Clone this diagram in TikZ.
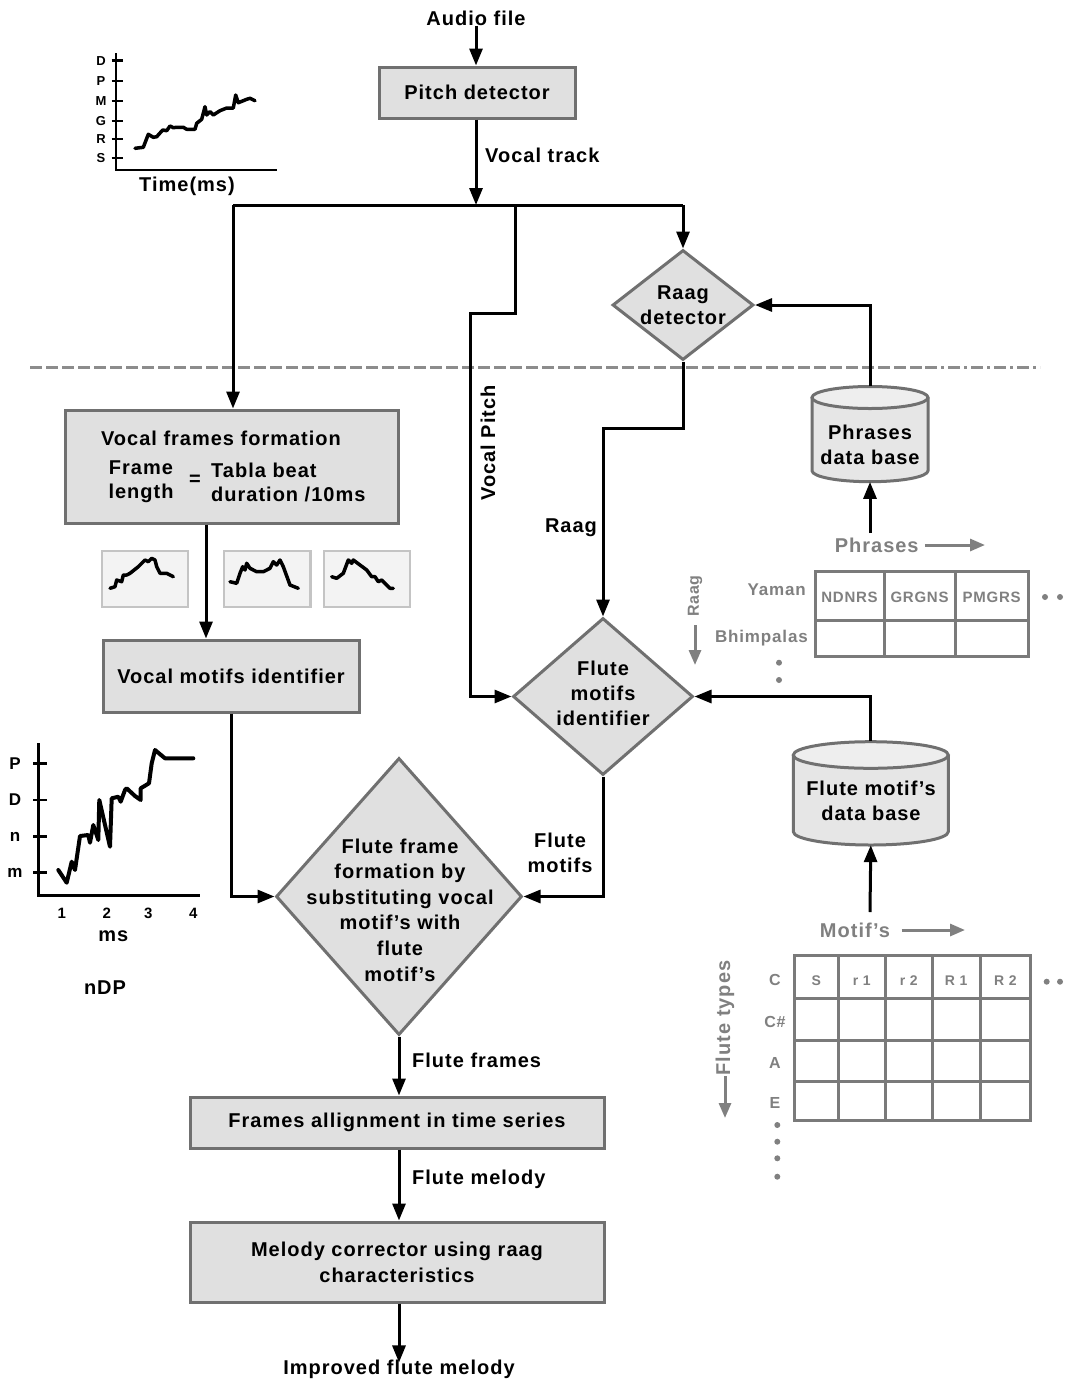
\documentclass[tikz,border=0pt]{standalone}
\usepackage{fontspec}
\setmainfont{Liberation Sans}[LetterSpace=5]
\usetikzlibrary{arrows.meta,shapes.geometric}
\definecolor{boxfill}{HTML}{E0E0E0}
\definecolor{boxline}{HTML}{707070}
\definecolor{graytxt}{HTML}{808080}
\definecolor{tabline}{HTML}{7A7A7A}
\definecolor{framefill}{HTML}{F3F3F3}
\definecolor{frameline}{HTML}{C4C4C4}
\definecolor{dashcol}{HTML}{8C8C8C}
\definecolor{dbfill}{HTML}{E6E6E6}
\definecolor{dbtop}{HTML}{EEEEEE}
\begin{document}
\begin{tikzpicture}[x=1pt,y=-1pt,
  txt/.style={font=\bfseries\fontsize{20}{25}\selectfont, inner sep=0pt, align=center},
  gtxt/.style={txt, text=graytxt},
  box/.style={draw=boxline, fill=boxfill, line width=3pt, inner sep=0pt},
  dia/.style={diamond, draw=boxline, fill=boxfill, line width=3pt, inner sep=0pt},
  conn/.style={line width=3pt, black},
  arr/.style={conn, -{Triangle[length=17pt,width=13pt]}},
  garr/.style={line width=3pt, graytxt, -{Triangle[length=15pt,width=12pt]}},
  tab/.style={draw=tabline, line width=3pt},
  frm/.style={draw=frameline, fill=framefill, line width=2.5pt, inner sep=0pt, minimum height=56},
  curve/.style={line width=3.5pt, line join=round, line cap=round},
  dbline/.style={draw=boxline, line width=3pt}
]
\fill[white] (0,0) rectangle (1065,1382);
\useasboundingbox (0,0) rectangle (1065,1382);

% dashed separator
\draw[dashcol, line width=3pt, dash pattern=on 12pt off 4pt] (30,367) -- (925,367);
\draw[dashcol, line width=3pt, dash pattern=on 12pt off 4pt on 3pt off 4pt] (925,367) -- (1040,367);

% ---------- top-left pitch graph ----------
\draw[line width=2.5pt] (116,53) -- (116,170) -- (277,170);
\foreach \yy/\lab in {60.7/D, 81/P, 101/M, 121/G, 139/R, 158/S}{
  \draw[line width=2.5pt] (111.7,\yy) -- (123.3,\yy);
  \node[font=\bfseries\fontsize{13}{13}\selectfont, inner sep=0pt] (tl\lab) at (101,\yy) {\lab};
}
\draw[curve] plot coordinates {(135,148.3) (143.3,147.3) (148.3,134.3) (153.3,137.3) (156.7,136.7) (162.7,130) (166.7,130.7) (170,126) (173.3,127.7) (176.7,127.3) (183.3,127.3) (186.7,129.3) (195,129.3) (196.7,123.3) (201.7,119.3) (205,106.7) (206.7,115) (210,111.7) (213.3,115) (220,110.7) (226.7,108) (233.3,108) (235.7,95) (238.3,102.7) (243.3,100.7) (246.7,99.3) (250,98.3) (255,100.7)};
\node[txt] (timems) at (187,186) {Time(ms)};

% ---------- nDP graph ----------
\draw[line width=3pt] (38.3,743) -- (38.3,895) -- (200,895);
\foreach \yy/\lab/\nm in {763.3/P/P, 800/D/D, 836.7/n/n, 872.7/m/m}{
  \draw[line width=2.5pt] (33,\yy) -- (47,\yy);
  \node[font=\bfseries\fontsize{17}{17}\selectfont, inner sep=0pt] (nd\nm) at (15,\yy) {\lab};
}
\foreach \xx/\lab in {61.7/1, 106.7/2, 148.3/3, 193.3/4}{
  \node[font=\bfseries\fontsize{15}{15}\selectfont, inner sep=0pt] (ndx\lab) at (\xx,913) {\lab};
}
\draw[curve, line width=4pt] plot coordinates {(58.3,870) (66.7,882.7) (71.7,861.7) (75,870) (80,836) (88.3,835) (90,842.7) (93.3,825) (98.3,840) (99.3,800) (110,846.7) (111.7,798.3) (118.3,796.7) (120.7,801.7) (125,790) (126.7,788.3) (135,796) (140.7,800) (140.7,788.3) (149,783.3) (151.7,763.3) (155,750) (165,758.3) (193.3,758.3)};
\node[txt] (msl) at (113.3,936) {ms};
\node[txt] (ndp) at (105,988) {nDP};

% ---------- main boxes ----------
\node[txt] (audio) at (476,18) {Audio file};
\node[box, txt, minimum width=196, minimum height=51] (pitch) at (477,92.5) {Pitch detector};
\coordinate (split) at (476,205);
\coordinate (jl) at (233,205);
\coordinate (jr) at (683,205);
\coordinate (jm) at (515,205);

\node[box, minimum width=333, minimum height=113] (vff) at (231.5,466.5) {};
\node[txt] (vfft) at (221,438) {Vocal frames formation};
\node[txt, font=\bfseries\fontsize{20}{24}\selectfont] (vffl) at (141,482) {Frame\\length};
\node[txt] (vffeq) at (195,480) {=};
\node[txt, font=\bfseries\fontsize{20}{24}\selectfont, align=left, anchor=west] (vffr) at (211,482) {Tabla beat\\duration /10ms};

\node[frm, minimum width=86] (fr1) at (145,579) {};
\node[frm, minimum width=86.7] (fr2) at (267.3,579) {};
\node[frm, minimum width=86] (fr3) at (367,579) {};
\draw[curve] plot coordinates {(110,588.3) (115,586.7) (116.7,580) (121.7,581.7) (123.3,575) (126.7,575) (130,573.3) (138.3,566.7) (145,560) (148.3,561.7) (151.7,558.3) (155,560) (156.7,566.7) (160,573.3) (166.7,573.3) (173.3,576.7)};
\draw[curve] plot coordinates {(230,581.7) (236.7,583.3) (240,573.3) (242.7,566.7) (245,570) (246.7,563.3) (250,568.3) (256.7,571.7) (263.3,571.7) (270,568.3) (273.3,561.7) (276.7,565) (280,560) (283.3,566.7) (290,585) (298.3,588.3)};
\draw[curve] plot coordinates {(331.7,576.7) (336.7,578.3) (343.3,573.3) (348.3,560) (351.7,563.3) (353.3,560) (360,565) (366.7,570) (371.7,576.7) (375,576.7) (378.3,581.7) (381.7,580) (385,583.3) (390,588.3) (393.3,588.3)};

\node[box, txt, minimum width=256, minimum height=72] (vmi) at (231,676) {Vocal motifs identifier};

\node[dia, minimum width=141, minimum height=110] (raag) at (683,305) {};
\node[txt] (raagt) at (683,305) {Raag\\detector};

\node[dia, minimum width=180, minimum height=157] (fmi) at (603,696.5) {};
\node[txt] (fmit) at (603,693) {Flute\\motifs\\identifier};

\node[dia, minimum width=246, minimum height=277] (ffd) at (399,896.5) {};
\node[txt, font=\bfseries\fontsize{20}{25.6}\selectfont] (ffdt) at (400,910) {Flute frame\\formation by\\substituting vocal\\motif’s with\\flute\\motif’s};

\node[box, txt, minimum width=414, minimum height=51] (fa) at (397,1122.5) {Frames allignment in time series};
\node[box, txt, font=\bfseries\fontsize{20}{26}\selectfont, minimum width=414, minimum height=80] (mc) at (397,1262) {Melody corrector using raag\\characteristics};
\node[txt] (imp) at (399,1369) {Improved flute melody};

% ---------- databases ----------
% Phrases data base
\fill[dbfill] (812,397.5) rectangle (928,470.7);
\fill[dbfill] (870,470.7) ellipse[x radius=58, y radius=11];
\draw[dbline] (812,397.5) -- (812,470.7) arc[start angle=180, end angle=0, x radius=58, y radius=11] -- (928,397.5);
\filldraw[dbline, fill=dbtop] (870,397.5) ellipse[x radius=58, y radius=11];
\node[inner sep=0pt, minimum width=116, minimum height=95.2] (phdb) at (870,434.1) {};
\node[txt] (phdbt) at (870,445) {Phrases\\data base};

% Flute motif's data base
\fill[dbfill] (793.3,755) rectangle (948.3,831.7);
\fill[dbfill] (870.8,831.7) ellipse[x radius=77.5, y radius=13.3];
\draw[dbline] (793.3,755) -- (793.3,831.7) arc[start angle=180, end angle=0, x radius=77.5, y radius=13.3] -- (948.3,755);
\filldraw[dbline, fill=dbtop] (870.8,755) ellipse[x radius=77.5, y radius=13.3];
\node[inner sep=0pt, minimum width=155, minimum height=103.3] (fmdb) at (870.8,793.3) {};
\node[txt] (fmdbt) at (871,801) {Flute motif’s\\data base};

% ---------- connectors ----------
\draw[arr] (audio.south) -- (pitch.north -| audio.south);
\draw[arr] (pitch.south -| split) -- (split);
\node[txt, anchor=west] (vtrack) at (485,155) {Vocal track};
\draw[conn] (jl) -- (jr);
\draw[arr] (jl) -- (jl |- vff.north);
\draw[arr] (jr) -- (raag.north);
\draw[arr] (jm) -- (515,313) -- (470,313) |- (fmi.west);
\node[txt, rotate=90] (vpitch) at (488,443) {Vocal Pitch};
\draw[arr] (raag.south) -- (683,428) -| (fmi.north);
\node[txt] (raagl) at (571,528) {Raag};
\draw[arr] ([xshift=-25.5pt]vff.south) -- ([xshift=-25.5pt]vff.south |- vmi.north);
\draw[arr] (vmi.south) |- (ffd.west);
\draw[arr] (fmi.south) |- (ffd.east);
\node[txt] (fmotl) at (560,853) {Flute\\motifs};
\draw[arr] (phdb.north) |- (raag.east);
\draw[arr] (fmdb.north) |- (fmi.east);
\coordinate (phsrc) at (870,533);
\coordinate (mosrc) at (870,912);
\draw[arr] (phsrc) -- (phdb.south);
\draw[arr] (mosrc) -- (fmdb.south);
\draw[arr] (ffd.south) -- (ffd.south |- fa.north);
\node[txt, anchor=west] (ffl) at (412,1060) {Flute frames};
\draw[arr] (fa.south -| ffd.south) -- (mc.north -| ffd.south);
\node[txt, anchor=west] (fml) at (412,1179) {Flute melody};
\draw[arr] (mc.south -| ffd.south) -- ([yshift=-3pt]imp.north -| ffd.south);

% ---------- phrases table ----------
\node[gtxt] (phl) at (876.7,545) {Phrases};
\draw[garr] (phl.east) ++(6,0) -- (985,545);
\draw[tab] (815,571.7) rectangle (1028.3,656);
\draw[tab] (884,571.7) -- (884,656) (955,571.7) -- (955,656) (815,620) -- (1028.3,620);
\node[gtxt, font=\bfseries\fontsize{15}{15}\selectfont] (c1) at (849.5,597) {NDNRS};
\node[gtxt, font=\bfseries\fontsize{15}{15}\selectfont] (c2) at (919.5,597) {GRGNS};
\node[gtxt, font=\bfseries\fontsize{15}{15}\selectfont] (c3) at (991.7,597) {PMGRS};
\node[gtxt, font=\bfseries\fontsize{17}{17}\selectfont, anchor=east] (yaman) at (806,590) {Yaman};
\node[gtxt, font=\bfseries\fontsize{17}{17}\selectfont, anchor=east] (bhim) at (808,638) {Bhimpalas};
\node[gtxt, font=\bfseries\fontsize{16}{16}\selectfont, rotate=90] (raagv) at (695,596) {Raag};
\draw[garr] (695,625) -- (695,665);
\foreach \pp in {(779,662.7), (779,680), (1045,597), (1060,597)}{\fill[graytxt] \pp circle (3);}

% ---------- motif table ----------
\node[gtxt] (motl) at (855,930) {Motif’s};
\draw[garr] (901.7,930) -- (965,930);
\draw[tab] (794,955.7) rectangle (1030.7,1120);
\foreach \xx in {838.3, 885, 932.3, 980}{\draw[tab] (\xx,955.7) -- (\xx,1120);}
\foreach \yy in {998.3, 1040.7, 1081.7}{\draw[tab] (794,\yy) -- (1030.7,\yy);}
\foreach \xx/\lab/\nm in {816.2/S/a, 861.7/r 1/b, 908.7/r 2/c, 956.2/R 1/d, 1005.3/R 2/e}{
  \node[gtxt, font=\bfseries\fontsize{14}{14}\selectfont] (h\nm) at (\xx,981) {\lab};
}
\foreach \yy/\lab/\nm in {980/C/a, 1021.7/C\#/b, 1063.3/A/c, 1102.7/E/d}{
  \node[gtxt, font=\bfseries\fontsize{16}{16}\selectfont] (r\nm) at (775,\yy) {\lab};
}
\node[gtxt, rotate=90] (ftypes) at (725,1018) {Flute types};
\draw[garr] (725,1076) -- (725,1118);
\foreach \pp in {(777.3,1125), (777.3,1141.7), (777.3,1158.3), (777.3,1176.7), (1046.7,981.7), (1060,981.7)}{\fill[graytxt] \pp circle (3);}

\end{tikzpicture}
\end{document}
